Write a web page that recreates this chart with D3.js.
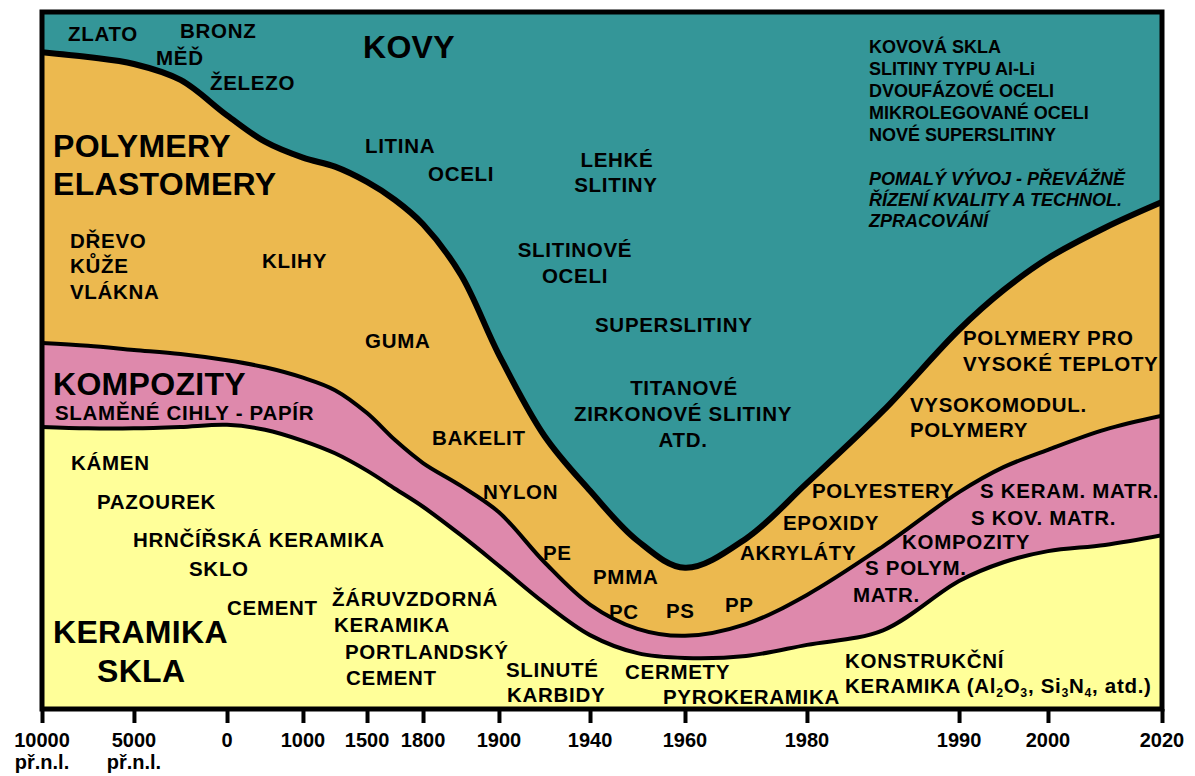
<!DOCTYPE html>
<html>
<head>
<meta charset="utf-8">
<script src="https://cdn.jsdelivr.net/npm/d3@7"></script>
<style>
  body { margin: 0; background: #fff; }
  svg { display: block; font-family: "Liberation Sans", Arial, sans-serif; font-weight: bold; }
</style>
</head>
<body>
<svg id="chart" width="1195" height="776"></svg>
<script>
// years on the (non-linear) time axis
const years = [-10000, -7500, -5000, -2500, 0, 500, 1000, 1250, 1500, 1650, 1800, 1850, 1900, 1920, 1940, 1950, 1960, 1970, 1980, 1985, 1990, 1995, 2000, 2010, 2020];

// relative importance of material groups (%), bottom to top
const keramika = [40.5, 40.3, 40.3, 40.5, 40.8, 40.1, 38.5, 36.7, 34.2, 31.6, 29.0, 24.9, 20.5, 15.1, 10.5, 7.9, 7.2, 7.5, 9.1, 11.2, 18.3, 21.0, 22.6, 23.5, 24.9];
const kompozity = [12.1, 11.9, 11.3, 10.5, 9.3, 9.0, 9.1, 9.1, 8.3, 7.0, 6.3, 7.1, 7.7, 5.9, 4.4, 3.5, 3.2, 4.6, 7.2, 12.1, 12.8, 13.7, 14.6, 16.6, 17.2];
const polymery = [41.9, 41.6, 41.2, 39.5, 35.3, 32.5, 31.7, 32.2, 33.3, 34.6, 34.4, 30.4, 22.7, 18.2, 16.4, 12.7, 9.8, 12.3, 16.1, 19.5, 23.4, 25.5, 27.6, 29.1, 30.8];
const kovy = [5.5, 6.2, 7.2, 9.5, 14.6, 18.4, 20.7, 22.0, 24.2, 26.8, 30.3, 37.6, 49.1, 60.8, 68.7, 75.9, 79.8, 75.6, 67.6, 57.2, 45.5, 39.8, 35.2, 30.8, 27.1];

// axis ticks
const tickYears = [-10000, -5000, 0, 1000, 1500, 1800, 1900, 1940, 1960, 1980, 1990, 2000, 2020];
const tickLabels = [["10000", "př.n.l."], ["5000", "př.n.l."], ["0"], ["1000"], ["1500"], ["1800"], ["1900"], ["1940"], ["1960"], ["1980"], ["1990"], ["2000"], ["2020"]];

// layout only: where each tick sits along the axis (fraction of width)
const tickPos = [0, 0.0821, 0.1652, 0.2330, 0.2902, 0.3402, 0.4080, 0.4893, 0.5741, 0.6830, 0.8188, 0.8982, 1];

const keys = ["keramika", "kompozity", "polymery", "kovy"];
const colors = { keramika: "#ffff99", kompozity: "#de89ac", polymery: "#ecb94f", kovy: "#349698" };

const plot = { left: 42, right: 1162, top: 14, bottom: 708 };

const svg = d3.select("#chart");

const x = d3.scaleLinear()
  .domain(tickYears)
  .range(tickPos.map((f) => plot.left + f * (plot.right - plot.left)));

const y = d3.scaleLinear().domain([0, 100]).range([plot.bottom, plot.top]);

const rows = years.map((yr, i) => ({
  year: yr,
  keramika: keramika[i],
  kompozity: kompozity[i],
  polymery: polymery[i],
  kovy: kovy[i],
}));

const series = d3.stack().keys(keys)(rows);
const curve = d3.curveCatmullRom.alpha(0.5);

svg.append("defs").append("clipPath").attr("id", "clip")
  .append("rect")
  .attr("x", plot.left).attr("y", plot.top - 3)
  .attr("width", plot.right - plot.left)
  .attr("height", plot.bottom - plot.top + 4);

const g = svg.append("g").attr("clip-path", "url(#clip)");

const area = d3.area()
  .x((d) => x(d.data.year))
  .y0((d) => y(d[0]))
  .y1((d) => y(d[1]))
  .curve(curve);

g.selectAll(".layer")
  .data(series)
  .enter()
  .append("path")
  .attr("class", "layer")
  .attr("d", area)
  .attr("fill", (d) => colors[d.key]);

// black boundaries between the groups
const line = d3.line()
  .x((d) => x(d.data.year))
  .y((d) => y(d[1]))
  .curve(curve);

g.selectAll(".edge")
  .data(series.slice(0, 3))
  .enter()
  .append("path")
  .attr("class", "edge")
  .attr("d", line)
  .attr("fill", "none")
  .attr("stroke", "#000")
  .attr("stroke-width", (d) => (d.key === "polymery" ? 6 : 4))
  .attr("stroke-linejoin", "round");

// frame
svg.append("rect")
  .attr("x", plot.left).attr("y", 12)
  .attr("width", plot.right - plot.left)
  .attr("height", 697)
  .attr("fill", "none")
  .attr("stroke", "#000")
  .attr("stroke-width", 5);

// axis
const axis = svg.append("g")
  .attr("transform", `translate(0,${709})`)
  .call(d3.axisBottom(x).tickValues(tickYears).tickSize(14).tickFormat(""));

axis.select(".domain").remove();
axis.selectAll(".tick line").attr("stroke", "#000").attr("stroke-width", 4);

const tickText = svg.append("g")
  .selectAll("text")
  .data(tickYears)
  .enter()
  .append("text")
  .attr("text-anchor", "middle")
  .attr("font-size", 20)
  .attr("fill", "#000");

tickText.each(function (d, i) {
  tickLabels[i].forEach((t, j) => {
    d3.select(this).append("tspan")
      .attr("x", x(d))
      .attr("y", 747 + j * 22)
      .text(t);
  });
});

// annotations (pixel placement)
const labels = [
  // kovy
  { t: "ZLATO", x: 68, y: 41 },
  { t: "BRONZ", x: 180, y: 38 },
  { t: "MĚĎ", x: 156, y: 65 },
  { t: "ŽELEZO", x: 210, y: 90 },
  { t: "KOVY", x: 363, y: 58, s: 32 },
  { t: "LITINA", x: 365, y: 153 },
  { t: "OCELI", x: 428, y: 181 },
  { t: "LEHKÉ", x: 617, y: 167, a: "middle" },
  { t: "SLITINY", x: 616, y: 192, a: "middle" },
  { t: "SLITINOVÉ", x: 575, y: 257, a: "middle" },
  { t: "OCELI", x: 575, y: 283, a: "middle" },
  { t: "SUPERSLITINY", x: 595, y: 332 },
  { t: "TITANOVÉ", x: 684, y: 395, a: "middle" },
  { t: "ZIRKONOVÉ SLITINY", x: 683, y: 421, a: "middle" },
  { t: "ATD.", x: 683, y: 447, a: "middle" },
  { t: "KOVOVÁ SKLA", x: 869, y: 53, s: 18 },
  { t: "SLITINY TYPU Al-Li", x: 869, y: 75, s: 18 },
  { t: "DVOUFÁZOVÉ OCELI", x: 869, y: 97, s: 18 },
  { t: "MIKROLEGOVANÉ OCELI", x: 869, y: 119, s: 18 },
  { t: "NOVÉ SUPERSLITINY", x: 869, y: 141, s: 18 },
  { t: "POMALÝ VÝVOJ - PŘEVÁŽNĚ", x: 869, y: 185, s: 18, i: true },
  { t: "ŘÍZENÍ KVALITY A TECHNOL.", x: 869, y: 206, s: 18, i: true },
  { t: "ZPRACOVÁNÍ", x: 869, y: 227, s: 18, i: true },
  // polymery
  { t: "POLYMERY", x: 53, y: 157, s: 32 },
  { t: "ELASTOMERY", x: 53, y: 195, s: 32 },
  { t: "DŘEVO", x: 70, y: 248 },
  { t: "KŮŽE", x: 70, y: 273 },
  { t: "VLÁKNA", x: 70, y: 299 },
  { t: "KLIHY", x: 262, y: 268 },
  { t: "GUMA", x: 365, y: 348 },
  { t: "BAKELIT", x: 432, y: 445 },
  { t: "NYLON", x: 483, y: 499 },
  { t: "PE", x: 543, y: 560 },
  { t: "PMMA", x: 593, y: 584 },
  { t: "PC", x: 609, y: 619 },
  { t: "PS", x: 666, y: 618 },
  { t: "PP", x: 725, y: 612 },
  { t: "AKRYLÁTY", x: 740, y: 560 },
  { t: "EPOXIDY", x: 783, y: 530 },
  { t: "POLYESTERY", x: 812, y: 498 },
  { t: "VYSOKOMODUL.", x: 910, y: 412 },
  { t: "POLYMERY", x: 910, y: 437 },
  { t: "POLYMERY PRO", x: 963, y: 345 },
  { t: "VYSOKÉ TEPLOTY", x: 963, y: 371 },
  // kompozity
  { t: "KOMPOZITY", x: 53, y: 395, s: 32 },
  { t: "SLAMĚNÉ CIHLY - PAPÍR", x: 55, y: 420 },
  { t: "S KERAM. MATR.", x: 980, y: 498 },
  { t: "S KOV. MATR.", x: 971, y: 525 },
  { t: "KOMPOZITY", x: 902, y: 549 },
  { t: "S POLYM.", x: 865, y: 575 },
  { t: "MATR.", x: 853, y: 602 },
  // keramika
  { t: "KÁMEN", x: 71, y: 470 },
  { t: "PAZOUREK", x: 97, y: 509 },
  { t: "HRNČÍŘSKÁ KERAMIKA", x: 133, y: 547 },
  { t: "SKLO", x: 189, y: 576 },
  { t: "CEMENT", x: 227, y: 615 },
  { t: "KERAMIKA", x: 53, y: 643, s: 32 },
  { t: "SKLA", x: 97, y: 682, s: 32 },
  { t: "ŽÁRUVZDORNÁ", x: 332, y: 606 },
  { t: "KERAMIKA", x: 334, y: 632 },
  { t: "PORTLANDSKÝ", x: 345, y: 659 },
  { t: "CEMENT", x: 346, y: 685 },
  { t: "SLINUTÉ", x: 506, y: 677 },
  { t: "KARBIDY", x: 507, y: 702 },
  { t: "CERMETY", x: 625, y: 679 },
  { t: "PYROKERAMIKA", x: 663, y: 704 },
  { t: "KONSTRUKČNÍ", x: 845, y: 668 },
  { t: "KERAMIKA (Al_2O_3, Si_3N_4, atd.)", x: 845, y: 693 },
];

const labelG = svg.append("g").attr("fill", "#000");

labels.forEach((l) => {
  const size = l.s || 20.5;
  const text = labelG.append("text")
    .attr("x", l.x)
    .attr("y", l.y)
    .attr("font-size", size)
    .attr("letter-spacing", size === 18 ? 0 : size > 30 ? 0.3 : 0.7)
    .attr("text-anchor", l.a || "start")
    .attr("font-style", l.i ? "italic" : "normal");

  // "_n" marks a subscript digit
  const parts = l.t.split(/_(\d)/);
  parts.forEach((p, k) => {
    if (k % 2 === 1) {
      text.append("tspan").attr("font-size", size * 0.6).attr("dy", 4).text(p);
    } else if (p.length) {
      text.append("tspan").attr("dy", k > 0 ? -4 : 0).text(p);
    }
  });
});
</script>
</body>
</html>
